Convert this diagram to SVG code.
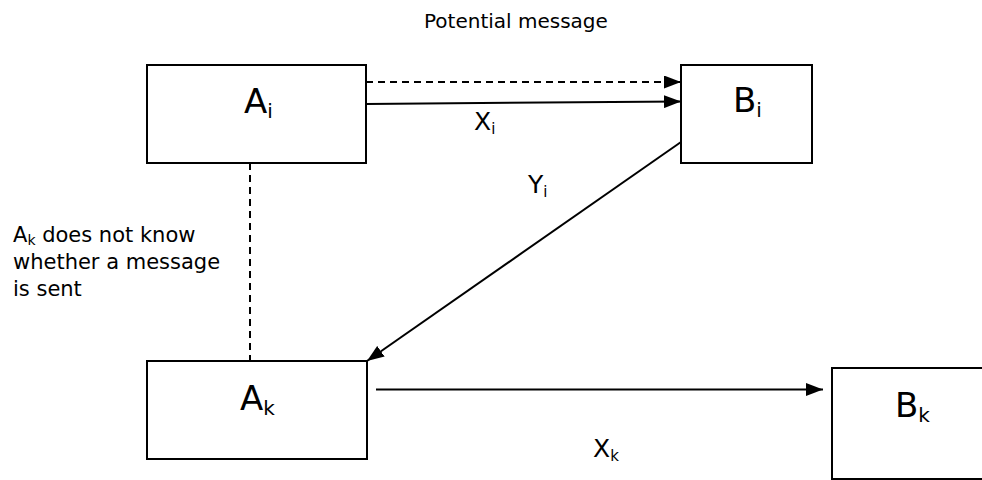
<svg xmlns="http://www.w3.org/2000/svg" width="982" height="480" viewBox="0 0 982 480">
  <style>
    text { font-family: "DejaVu Sans", "Liberation Sans", sans-serif; fill: #000; }
    .node rect { fill: #fff; stroke: #000; stroke-width: 2; }
    .big { font-size: 34px; }
    .mid { font-size: 25px; }
    .note { font-size: 20px; }
    .side { font-size: 21px; }
    .sub { font-size: 20px; }
    .subm { font-size: 15px; }
    .subs { font-size: 14px; }
    .conn line { stroke: #000; stroke-width: 2; fill: none; }
    .dash { stroke-dasharray: 7 5; }
  </style>
  <defs>
    <marker id="arrow" viewBox="0 0 17 13" refX="17" refY="6.5" markerWidth="17" markerHeight="13" markerUnits="userSpaceOnUse" orient="auto">
      <path d="M0,0 L17,6.5 L0,13 Z" fill="#000"/>
    </marker>
  </defs>

  <!-- connectors -->
  <g id="connectors" class="conn">
    <line class="dash" x1="366" y1="82" x2="681" y2="82" marker-end="url(#arrow)"/>
    <line x1="366" y1="104" x2="681" y2="101.5" marker-end="url(#arrow)"/>
    <line x1="681" y1="142" x2="367" y2="361" marker-end="url(#arrow)"/>
    <line class="dash" x1="250" y1="163" x2="250" y2="361"/>
    <line x1="376" y1="389.5" x2="823" y2="389.5" marker-end="url(#arrow)"/>
  </g>

  <!-- nodes -->
  <g id="node-Ai" class="node">
    <rect x="147" y="65" width="219" height="98"/>
    <text class="big" x="244" y="113">A<tspan class="sub" dy="5">i</tspan></text>
  </g>
  <g id="node-Bi" class="node">
    <rect x="681" y="65" width="131" height="98"/>
    <text class="big" x="733" y="112">B<tspan class="sub" dy="5">i</tspan></text>
  </g>
  <g id="node-Ak" class="node">
    <rect x="147" y="361" width="220" height="98"/>
    <text class="big" x="240" y="410">A<tspan class="sub" dy="5">k</tspan></text>
  </g>
  <g id="node-Bk" class="node">
    <rect x="832" y="368" width="160" height="111"/>
    <text class="big" x="895" y="417">B<tspan class="sub" dy="5">k</tspan></text>
  </g>

  <!-- labels -->
  <g id="labels">
    <text class="note" x="424" y="28">Potential message</text>
    <text class="mid" x="474" y="130">X<tspan class="subm" dy="4">i</tspan></text>
    <text class="mid" x="528" y="193">Y<tspan class="subm" dy="4">i</tspan></text>
    <text class="mid" x="593" y="457">X<tspan class="subm" dy="4">k</tspan></text>
    <text class="side" x="13" y="242">A<tspan class="subs" dy="3">k</tspan><tspan dy="-3"> does not know</tspan></text>
    <text class="side" x="13" y="269">whether a message</text>
    <text class="side" x="13" y="296">is sent</text>
  </g>
</svg>
